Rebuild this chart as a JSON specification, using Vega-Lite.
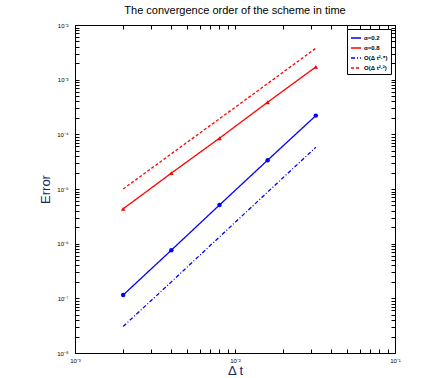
{
  "$schema": "https://vega.github.io/schema/vega-lite/v6.json",
  "width": 320,
  "height": 328,
  "autosize": "none",
  "padding": {"left": 75, "top": 25, "right": 51, "bottom": 25},
  "background": "white",
  "title": {"text": "The convergence order of the scheme in time", "font": "Liberation Sans", "fontSize": 11, "fontWeight": "normal", "color": "#000000", "offset": 6},
  "config": {"view": {"stroke": "#000000", "strokeWidth": 1}},
  "data": {"values": [
    {"dt": 0.002, "err": 1.15e-7, "series": "α=0.2"},
    {"dt": 0.004, "err": 7.6e-7, "series": "α=0.2"},
    {"dt": 0.008, "err": 5.1e-6, "series": "α=0.2"},
    {"dt": 0.016, "err": 3.37e-5, "series": "α=0.2"},
    {"dt": 0.032, "err": 2.2e-4, "series": "α=0.2"},
    {"dt": 0.002, "err": 4.34e-6, "series": "α=0.8"},
    {"dt": 0.004, "err": 1.95e-5, "series": "α=0.8"},
    {"dt": 0.008, "err": 8.5e-5, "series": "α=0.8"},
    {"dt": 0.016, "err": 3.87e-4, "series": "α=0.8"},
    {"dt": 0.032, "err": 1.71e-3, "series": "α=0.8"},
    {"dt": 0.002, "err": 3.06e-8, "series": "O(Δ t²·⁸)"},
    {"dt": 0.004, "err": 2.0e-7, "series": "O(Δ t²·⁸)"},
    {"dt": 0.008, "err": 1.33e-6, "series": "O(Δ t²·⁸)"},
    {"dt": 0.016, "err": 8.8e-6, "series": "O(Δ t²·⁸)"},
    {"dt": 0.032, "err": 5.8e-5, "series": "O(Δ t²·⁸)"},
    {"dt": 0.002, "err": 1.0e-5, "series": "O(Δ t²·²)"},
    {"dt": 0.004, "err": 4.4e-5, "series": "O(Δ t²·²)"},
    {"dt": 0.008, "err": 1.93e-4, "series": "O(Δ t²·²)"},
    {"dt": 0.016, "err": 8.5e-4, "series": "O(Δ t²·²)"},
    {"dt": 0.032, "err": 3.75e-3, "series": "O(Δ t²·²)"}
  ]},
  "layer": [
    {
      "mark": {"type": "line", "strokeWidth": 1.3, "clip": true},
      "encoding": {
        "x": {"field": "dt", "type": "quantitative",
          "scale": {"type": "log", "domain": [0.001, 0.1], "nice": false},
          "axis": {"orient": "bottom", "title": "Δ t", "titleFont": "Liberation Sans", "titleFontSize": 13, "titleFontWeight": "normal", "titleColor": "#1a2a5a", "titlePadding": 1,
            "values": [0.001,0.002,0.003,0.004,0.005,0.006,0.007,0.008,0.009,0.01,0.02,0.03,0.04,0.05,0.06,0.07,0.08,0.09,0.1],
            "labelExpr": "abs(log(datum.value)/LN10 - round(log(datum.value)/LN10)) < 1e-6 ? '10⁻' + ['⁰','¹','²','³','⁴','⁵','⁶','⁷','⁸','⁹'][-round(log(datum.value)/LN10)] : ''",
            "labelFont": "Liberation Sans", "labelFontSize": 6, "labelColor": "#000000", "labelPadding": 8, "labelFlush": false, "labelOverlap": false,
            "ticks": true, "tickSize": -4, "tickWidth": 1, "tickColor": "#000000",
            "domain": true, "domainColor": "#000000", "domainWidth": 1, "grid": false}},
        "y": {"field": "err", "type": "quantitative",
          "scale": {"type": "log", "domain": [1e-8, 0.01], "nice": false},
          "axis": {"orient": "left", "title": "Error", "titleFont": "Liberation Sans", "titleFontSize": 13, "titleFontWeight": "normal", "titleColor": "#1a2a5a", "titlePadding": 4,
            "values": [1e-8,2e-8,3e-8,4e-8,5e-8,6e-8,7e-8,8e-8,9e-8,1e-7,2e-7,3e-7,4e-7,5e-7,6e-7,7e-7,8e-7,9e-7,1e-6,2e-6,3e-6,4e-6,5e-6,6e-6,7e-6,8e-6,9e-6,1e-5,2e-5,3e-5,4e-5,5e-5,6e-5,7e-5,8e-5,9e-5,1e-4,2e-4,3e-4,4e-4,5e-4,6e-4,7e-4,8e-4,9e-4,1e-3,2e-3,3e-3,4e-3,5e-3,6e-3,7e-3,8e-3,9e-3,1e-2],
            "labelExpr": "abs(log(datum.value)/LN10 - round(log(datum.value)/LN10)) < 1e-6 ? '10⁻' + ['⁰','¹','²','³','⁴','⁵','⁶','⁷','⁸','⁹'][-round(log(datum.value)/LN10)] : ''",
            "labelFont": "Liberation Sans", "labelFontSize": 6, "labelColor": "#000000", "labelPadding": 11, "labelFlush": false, "labelOverlap": false,
            "ticks": true, "tickSize": -4, "tickWidth": 1, "tickColor": "#000000",
            "domain": true, "domainColor": "#000000", "domainWidth": 1, "grid": false}},
        "color": {"field": "series", "type": "nominal",
          "scale": {"domain": ["α=0.2", "α=0.8", "O(Δ t²·⁸)", "O(Δ t²·²)"], "range": ["#0000ff", "#ff0000", "#0000ff", "#ff0000"]},
          "legend": {"title": null, "orient": "top-right", "offset": 4, "strokeColor": "#000000", "fillColor": "#ffffff", "padding": 3, "rowPadding": 1,
            "labelFont": "Liberation Sans", "labelFontSize": 6, "labelFontWeight": "bold", "labelColor": "#000000", "symbolType": "stroke", "symbolSize": 100, "symbolStrokeWidth": 1.3, "labelOffset": 2}},
        "strokeDash": {"field": "series", "type": "nominal",
          "scale": {"domain": ["α=0.2", "α=0.8", "O(Δ t²·⁸)", "O(Δ t²·²)"], "range": [[1, 0], [1, 0], [4, 2, 1, 2], [3, 2]]},
          "legend": {"title": null}}
      }
    },
    {
      "transform": [{"filter": "datum.series == 'α=0.2' || datum.series == 'α=0.8'"}],
      "mark": {"type": "point", "filled": true, "size": 20, "opacity": 1},
      "encoding": {
        "x": {"field": "dt", "type": "quantitative", "axis": null},
        "y": {"field": "err", "type": "quantitative", "axis": null},
        "shape": {"field": "series", "type": "nominal", "scale": {"domain": ["α=0.2", "α=0.8"], "range": ["circle", "triangle-up"]}, "legend": null},
        "color": {"field": "series", "type": "nominal", "legend": null}
      }
    },
    {
      "mark": {"type": "line", "opacity": 0},
      "encoding": {
        "x": {"field": "dt", "type": "quantitative",
          "axis": {"orient": "top", "title": null, "labels": false, "grid": false, "domainColor": "#000000", "tickColor": "#000000", "domainWidth": 1, "tickWidth": 1,
            "values": [0.001,0.002,0.003,0.004,0.005,0.006,0.007,0.008,0.009,0.01,0.02,0.03,0.04,0.05,0.06,0.07,0.08,0.09,0.1],
            "tickSize": -4}},
        "y": {"field": "err", "type": "quantitative",
          "axis": {"orient": "right", "title": null, "labels": false, "grid": false, "domainColor": "#000000", "tickColor": "#000000", "domainWidth": 1, "tickWidth": 1,
            "values": [1e-8,2e-8,3e-8,4e-8,5e-8,6e-8,7e-8,8e-8,9e-8,1e-7,2e-7,3e-7,4e-7,5e-7,6e-7,7e-7,8e-7,9e-7,1e-6,2e-6,3e-6,4e-6,5e-6,6e-6,7e-6,8e-6,9e-6,1e-5,2e-5,3e-5,4e-5,5e-5,6e-5,7e-5,8e-5,9e-5,1e-4,2e-4,3e-4,4e-4,5e-4,6e-4,7e-4,8e-4,9e-4,1e-3,2e-3,3e-3,4e-3,5e-3,6e-3,7e-3,8e-3,9e-3,1e-2],
            "tickSize": -4}},
        "detail": {"field": "series", "type": "nominal"}
      }
    }
  ],
  "resolve": {"axis": {"x": "independent", "y": "independent"}}
}
